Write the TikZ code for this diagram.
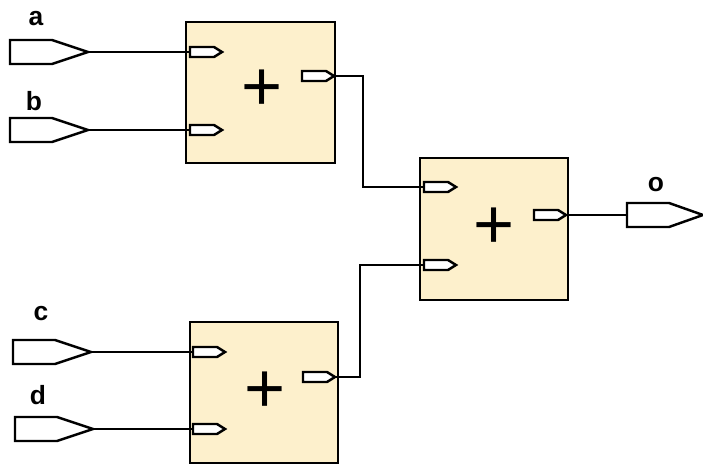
\documentclass[tikz,border=0pt]{standalone}
\usepackage{fontspec}
\setmainfont{Liberation Sans}
\usetikzlibrary{calc}
\tikzset{>=latex}
\tikzstyle{block} = [draw, line width=0.7, fill={rgb,255:red,253;green,240;blue,204}]
\tikzstyle{port} = [draw, line width=0.7, fill=white]
\tikzstyle{wire} = [line width=0.7]
\tikzstyle{lbl} = [font=\bfseries\fontsize{7.5}{7.5}\selectfont]
\tikzstyle{plus} = [font=\fontsize{20}{20}\selectfont]
% big input/output port: #1 left end, #2 name
\newcommand{\bigport}[2]{
\draw[port] (#1) -- ++(0,12) -- ++(42,0) -- ++(36,-12) -- ++(-36,-12) -- ++(-42,0) -- cycle;
\coordinate (#2) at ($(#1)+(78,0)$);
}
% small pin inside a block
\newcommand{\pin}[2]{
\draw[port] (#1) -- ++(0,5) -- ++(24,0) -- ++(8,-5) -- ++(-8,-5) -- ++(-24,0) -- cycle;
\coordinate (#2) at ($(#1)+(32,0)$);
}
\begin{document}
\begin{tikzpicture}[x=0.01cm, y=-0.01cm]
		\useasboundingbox (0,0) rectangle (703,470);
		
		% Blocks
		\draw[block] (186,22) rectangle (335,163);
		\draw[block] (420,158) rectangle (568,300);
		\draw[block] (190,322) rectangle (338,463);
		\node[plus] (s1) at (262,90) {+};
		\node[plus] (s2) at (494,228) {+};
		\node[plus] (s3) at (265,392) {+};
		
		% Ports
		\bigport{10,52}{a}
		\bigport{10,130}{b}
		\bigport{13,352}{c}
		\bigport{15,429}{d}
		\coordinate (o) at (627,215);
		\draw[port] (o) -- ++(0,12) -- ++(42,0) -- ++(34,-12) -- ++(-34,-12) -- ++(-42,0) -- cycle;
		
		% Pins
		\pin{190,52}{i1a} \coordinate (p1a) at (190,52);
		\pin{190,130}{i1b} \coordinate (p1b) at (190,130);
		\pin{302,76}{o1}
		\pin{424,187}{i2a} \coordinate (p2a) at (424,187);
		\pin{424,265}{i2b} \coordinate (p2b) at (424,265);
		\pin{534,215}{o2}
		\pin{193,352}{i3a} \coordinate (p3a) at (193,352);
		\pin{193,429}{i3b} \coordinate (p3b) at (193,429);
		\pin{303,377}{o3}
		
		% Wires
		\draw[wire] (a) -- (p1a);
		\draw[wire] (b) -- (p1b);
		\draw[wire] (c) -- (p3a);
		\draw[wire] (d) -- (p3b);
		\draw[wire] (o1) -- ++(29,0) |- (p2a);
		\draw[wire] (o3) -- ++(25,0) |- (p2b);
		\draw[wire] (o2) -- (o);
		
		% Labels
		\node[lbl] (la) at (36,19) {a};
		\node[lbl] (lb) at (34,101) {b};
		\node[lbl] (lc) at (41,314) {c};
		\node[lbl] (ld) at (38,395) {d};
		\node[lbl] (lo) at (656,185) {o};
	\end{tikzpicture}
\end{document}
